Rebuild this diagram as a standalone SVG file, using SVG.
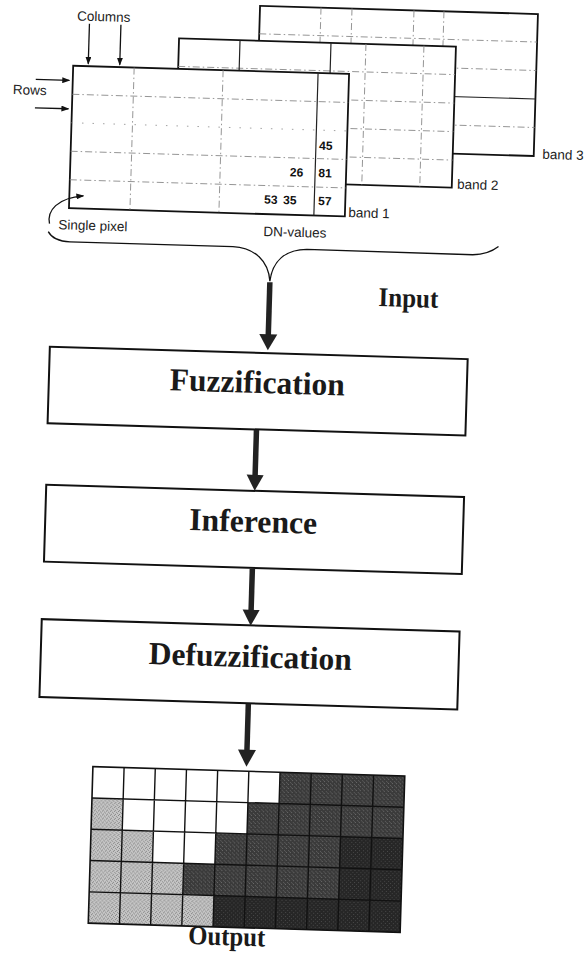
<svg xmlns="http://www.w3.org/2000/svg" width="586" height="961" viewBox="0 0 586 961">
<defs>
<style>
.band{fill:#fff;stroke:#111;stroke-width:1.8}
.dash{stroke:#8a8a8a;stroke-width:0.9;stroke-dasharray:7 3 1.5 3;fill:none}
.dot{stroke:#999;stroke-width:0.9;stroke-dasharray:1.5 9;fill:none}
.solid{stroke:#222;stroke-width:1.2;fill:none}
.lbl{font-family:"Liberation Sans",Arial,sans-serif;font-size:13.5px;fill:#222}
.num{font-family:"Liberation Sans",Arial,sans-serif;font-size:12px;font-weight:bold;fill:#111;text-anchor:middle}
.box{fill:#fff;stroke:#111;stroke-width:2}
.title{font-family:"Liberation Serif","Times New Roman",serif;font-weight:bold;fill:#1a1a1a;text-anchor:middle}
.thin{stroke:#111;stroke-width:1.3;fill:none}
.shaft{stroke:#222;stroke-width:5.5;fill:none}
.head{fill:#222}
.gl{stroke:#111;stroke-width:1.4;fill:none}
</style>
<marker id="sa" markerWidth="8" markerHeight="6" refX="7" refY="3" orient="auto" markerUnits="userSpaceOnUse"><path d="M0,0 L8,3 L0,6 Z" fill="#111"/></marker>
<pattern id="lt" width="4" height="4" patternUnits="userSpaceOnUse"><rect width="4" height="4" fill="#c6c6c6"/><rect x="0" y="0" width="1" height="1" fill="#808080"/><rect x="2" y="1" width="1" height="1" fill="#8c8c8c"/><rect x="1" y="3" width="1" height="1" fill="#858585"/><rect x="3" y="2" width="1" height="1" fill="#909090"/></pattern>
<pattern id="dk" width="4" height="4" patternUnits="userSpaceOnUse"><rect width="4" height="4" fill="#3a3a3a"/><rect x="1" y="0" width="1" height="1" fill="#6a6a6a"/><rect x="3" y="2" width="1" height="1" fill="#5e5e5e"/><rect x="0" y="3" width="1" height="1" fill="#555"/></pattern>
<pattern id="dk2" width="4" height="4" patternUnits="userSpaceOnUse"><rect width="4" height="4" fill="#262626"/><rect x="2" y="0" width="1" height="1" fill="#4a4a4a"/><rect x="0" y="2" width="1" height="1" fill="#444"/></pattern>
</defs>
<rect width="586" height="961" fill="#fff"/>
<g transform="rotate(1.7 293 480)">

<g id="band3">
<rect class="band" x="246" y="7" width="278" height="142"/>
<path class="dash" d="M246,35 H524 M246,63.5 H524 M246,120.5 H524 M307,7 V149 M338,7 V149 M400,7 V149 M430,7 V149"/>
<path class="solid" d="M246,92 H524"/>
<text class="lbl" x="532.5" y="151.6">band 3</text>
</g>

<g id="band2">
<rect class="band" x="166" y="42" width="277" height="141"/>
<path class="dash" d="M166,70 H443 M166,98.5 H443 M166,127 H443 M166,155.5 H443 M353,42 V183 M411,42 V183"/>
<path class="solid" d="M227,42 V183 M318,42 V72"/>
<text class="lbl" x="448.4" y="184.1">band 2</text>
</g>

<g id="band1">
<rect class="band" x="61" y="72.5" width="276" height="142.5"/>
<path class="dash" d="M61,101 H337 M61,158 H337 M61,186.5 H337 M122,72.5 V215 M211,72.5 V215"/>
<path class="dot" d="M61,129.5 H337"/>
<path class="solid" d="M306,72.5 V215"/>
<text class="num" x="316" y="149">45</text>
<text class="num" x="287.5" y="176.5">26</text>
<text class="num" x="316" y="176.5">81</text>
<text class="num" x="262.5" y="204.5">53</text>
<text class="num" x="281.5" y="204.5">35</text>
<text class="num" x="316.5" y="204.5">57</text>
<text class="lbl" x="340.5" y="215.5">band 1</text>
</g>

<g id="labels">
<text class="lbl" x="63.4" y="27.1">Columns</text>
<text class="lbl" x="1.5" y="102.6">Rows</text>
<text class="lbl" x="50.9" y="236.3">Single pixel</text>
<text class="lbl" x="256.1" y="236.9">DN-values</text>
</g>

<g id="input-label">
<text class="title" x="403" y="303.6" font-size="27" textLength="60" lengthAdjust="spacingAndGlyphs">Input</text>
</g>

<g id="fuzzification">
<rect class="box" x="46" y="354" width="418" height="76.5"/>
<text class="title" x="254.5" y="394" font-size="32" textLength="175" lengthAdjust="spacingAndGlyphs">Fuzzification</text>
</g>

<g id="inference">
<rect class="box" x="46.5" y="492" width="418" height="77"/>
<text class="title" x="254.5" y="533.2" font-size="32" textLength="128" lengthAdjust="spacingAndGlyphs">Inference</text>
</g>

<g id="defuzzification">
<rect class="box" x="46" y="626.5" width="418" height="78"/>
<text class="title" x="255.6" y="668.3" font-size="32" textLength="203" lengthAdjust="spacingAndGlyphs">Defuzzification</text>
</g>

<g id="output">
<rect x="101.5" y="772.5" width="312" height="156.5" fill="#fff"/>
<path d="M101.5,803.8 H132.7 V835.1 H163.9 V866.4 H195.1 V897.7 H226.3 V929 H101.5 Z" fill="url(#lt)"/>
<path d="M288.7,772.5 H413.5 V929 H226.3 V897.7 H195.1 V866.4 H226.3 V835.1 H257.5 V803.8 H288.7 Z" fill="url(#dk)"/>
<path d="M351.1,835.1 H413.5 V929 H226.3 V897.7 H351.1 Z" fill="url(#dk2)"/>
<path class="gl" d="M132.7,772.5 V929 M163.9,772.5 V929 M195.1,772.5 V929 M226.3,772.5 V929 M257.5,772.5 V929 M288.7,772.5 V929 M319.9,772.5 V929 M351.1,772.5 V929 M382.3,772.5 V929 M101.5,803.8 H413.5 M101.5,835.1 H413.5 M101.5,866.4 H413.5 M101.5,897.7 H413.5"/>
<rect x="101.5" y="772.5" width="312" height="156.5" fill="none" stroke="#111" stroke-width="1.6"/>
<text class="title" x="240.3" y="947" font-size="27" textLength="77" lengthAdjust="spacingAndGlyphs">Output</text>
</g>

<g id="connectors">
<line class="thin" x1="76" y1="30" x2="76" y2="70" marker-end="url(#sa)"/>
<line class="thin" x1="107.5" y1="30" x2="107.5" y2="70" marker-end="url(#sa)"/>
<line class="thin" x1="24" y1="87.2" x2="57.5" y2="87.2" marker-end="url(#sa)"/>
<line class="thin" x1="24" y1="115.6" x2="57.5" y2="115.6" marker-end="url(#sa)"/>
<path class="thin" d="M42,231 C39,218 49,205 75,202.2" marker-end="url(#sa)"/>
<path class="thin" d="M41,239 C45,246 52,248.5 63,248.5 L226,248.5 C248,249 262,262 264,282 C266,262 278,250 300,249 L466,249.5 C478,249 486,245 491.5,240.5"/>
<line class="shaft" x1="264" y1="283" x2="264" y2="337"/>
<polygon class="head" points="255,335 273,335 264,351"/>
<line class="shaft" x1="255" y1="431" x2="255" y2="478"/>
<polygon class="head" points="246.5,476 263.5,476 255,492"/>
<line class="shaft" x1="255" y1="570" x2="255" y2="613"/>
<polygon class="head" points="246.5,611 263.5,611 255,627"/>
<line class="shaft" x1="255" y1="705" x2="255" y2="753"/>
<polygon class="head" points="246,751 264,751 255,768"/>
</g>

</g>
</svg>
